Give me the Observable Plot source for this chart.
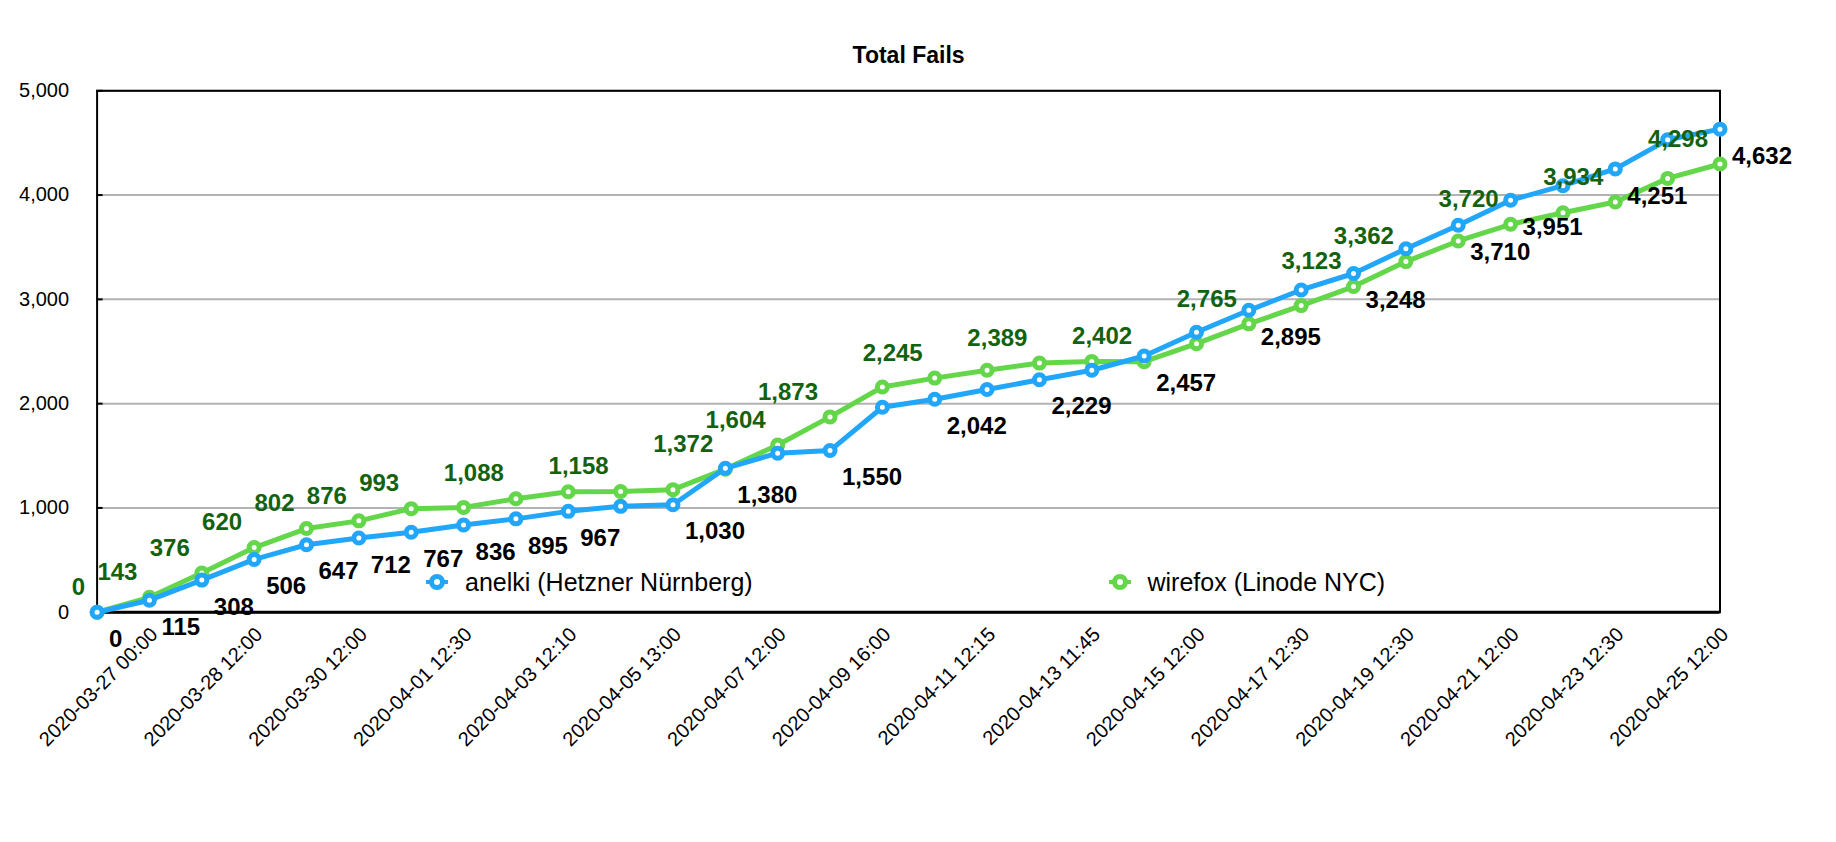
<!DOCTYPE html>
<html>
<head>
<meta charset="utf-8">
<script src="https://cdn.jsdelivr.net/npm/d3@7"></script>
<script src="https://cdn.jsdelivr.net/npm/@observablehq/plot@0.6"></script>
<style>
  body { margin: 0; background: #fff; font-family: "Liberation Sans", Helvetica, Arial, sans-serif; }
  #wrap { position: relative; width: 1836px; height: 842px; }
  .legend { position: absolute; display: flex; align-items: center; font-size: 25px; line-height: 30px; color: #000; white-space: nowrap; }
  .legend svg { display: block; margin-right: 17px; }
</style>
</head>
<body>
<div id="wrap"></div>
<script>
// ---- data ----
const title = "Total Fails";
const xTickLabels = [
  "2020-03-27 00:00", "2020-03-28 12:00", "2020-03-30 12:00", "2020-04-01 12:30",
  "2020-04-03 12:10", "2020-04-05 13:00", "2020-04-07 12:00", "2020-04-09 16:00",
  "2020-04-11 12:15", "2020-04-13 11:45", "2020-04-15 12:00", "2020-04-17 12:30",
  "2020-04-19 12:30", "2020-04-21 12:00", "2020-04-23 12:30", "2020-04-25 12:00"
];
const xTickIndex = [1, 3, 5, 7, 9, 11, 13, 15, 17, 19, 21, 23, 25, 27, 29, 31];
const yTicks = [0, 1000, 2000, 3000, 4000, 5000];
const seriesNames = ["anelki (Hetzner Nürnberg)", "wirefox (Linode NYC)"];
const anelki = [0, 115, 308, 506, 647, 712, 767, 836, 895, 967,
  1015, 1030, 1380, 1525, 1550, 1965, 2042, 2135, 2229, 2320,
  2457, 2685, 2895, 3090, 3248, 3485, 3710, 3951, 4090, 4251,
  4530, 4632];
const wirefox = [0, 143, 376, 620, 802, 876, 993, 1005, 1088, 1155,
  1158, 1175, 1372, 1604, 1873, 2160, 2245, 2320, 2389, 2405,
  2402, 2575, 2765, 2940, 3123, 3362, 3560, 3720, 3830, 3934,
  4160, 4298];
const anelkiLabelled = [0, 1, 2, 3, 4, 5, 6, 7, 8, 9, 11, 12, 14, 16, 18, 20, 22, 24, 26, 27, 29, 31];
const wirefoxLabelled = [0, 1, 2, 3, 4, 5, 6, 8, 10, 12, 13, 14, 16, 18, 20, 22, 24, 25, 27, 29, 31];

// ---- style ----
const BLUE = "#21a6fa";
const GREEN = "#64d64a";
const DARKGREEN = "#13620f";
const FONT = "'Liberation Sans', Helvetica, Arial, sans-serif";

const rows = anelki.map((a, i) => ({ i, a, w: wirefox[i] }));
const fmt = d3.format(",");

const chart = Plot.plot({
  width: 1836,
  height: 842,
  marginLeft: 96.6,
  marginRight: 116.5,
  marginTop: 90.3,
  marginBottom: 230.3,
  x: { domain: [0, anelki.length - 1] },
  y: { domain: [0, 5000] },
  style: { fontFamily: FONT, background: "white", color: "#000", overflow: "visible" },
  marks: [
    Plot.gridY({ ticks: yTicks, stroke: "#b3b3b3", strokeOpacity: 1, strokeWidth: 2 }),
    Plot.frame({ stroke: "#000", strokeWidth: 2 }),
    Plot.ruleY([0], { stroke: "#000", strokeWidth: 3 }),
    Plot.axisY({ ticks: yTicks, tickSize: 6, dx: 6, tickFormat: () => "", stroke: "#000", strokeWidth: 2, label: null }),
    Plot.axisY({ ticks: yTicks, tickSize: 0, tickPadding: 28, tickFormat: fmt, fontSize: 20, fill: "#000", label: null }),
    Plot.axisX({ ticks: xTickIndex, tickSize: 0, tickPadding: 19, tickRotate: -45, dx: 5,
      tickFormat: (d) => xTickLabels[xTickIndex.indexOf(d)], fontSize: 20, fill: "#000", label: null }),
    Plot.text([title], { frameAnchor: "top", lineAnchor: "middle", dy: -35, fontSize: 23, fontWeight: "bold", fill: "#000" }),
    Plot.line(rows, { x: "i", y: "w", stroke: GREEN, strokeWidth: 5, strokeLinejoin: "round" }),
    Plot.dot(rows, { x: "i", y: "w", r: 5, stroke: GREEN, strokeWidth: 5, fill: "white" }),
    Plot.line(rows, { x: "i", y: "a", stroke: BLUE, strokeWidth: 5, strokeLinejoin: "round" }),
    Plot.dot(rows, { x: "i", y: "a", r: 5, stroke: BLUE, strokeWidth: 5, fill: "white" }),
    Plot.text(rows.filter((d) => anelkiLabelled.includes(d.i)), {
      x: "i", y: "a", text: (d) => fmt(d.a), textAnchor: "start", dx: 12, dy: 27,
      fontSize: 24, fontWeight: "bold", fill: "#000"
    }),
    Plot.text(rows.filter((d) => wirefoxLabelled.includes(d.i)), {
      x: "i", y: "w", text: (d) => fmt(d.w), textAnchor: "end", dx: -12, dy: -25,
      fontSize: 24, fontWeight: "bold", fill: DARKGREEN
    })
  ]
});

const wrap = document.getElementById("wrap");
wrap.appendChild(chart);

// ---- legend (inside the plot area) ----
const legendItems = [
  { name: seriesNames[0], color: BLUE, left: 426 },
  { name: seriesNames[1], color: GREEN, left: 1108.5 }
];
for (const item of legendItems) {
  const div = document.createElement("div");
  div.className = "legend";
  div.style.left = item.left + "px";
  div.style.top = "566.7px";
  div.innerHTML =
    `<svg width="22" height="22" viewBox="-11 -11 22 22">` +
    `<line x1="-11" x2="11" y1="0" y2="0" stroke="${item.color}" stroke-width="4"/>` +
    `<circle r="5.5" fill="white" stroke="${item.color}" stroke-width="5"/></svg>` +
    `<span>${item.name}</span>`;
  wrap.appendChild(div);
}
</script>
</body>
</html>
